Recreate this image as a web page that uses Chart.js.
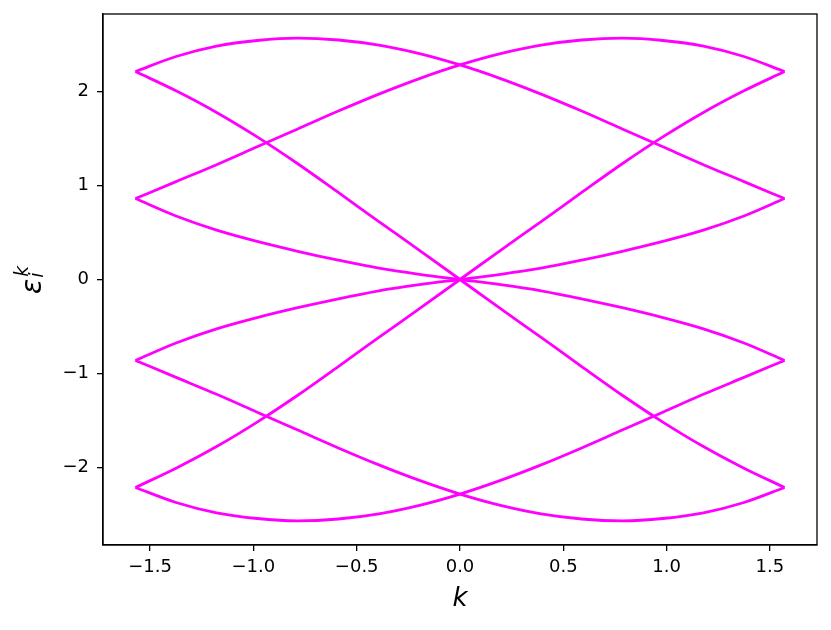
<!DOCTYPE html>
<html>
<head>
<meta charset="utf-8">
<script src="https://cdn.jsdelivr.net/npm/chart.js@4.4.1/dist/chart.umd.min.js"></script>
<style>
  html, body { margin: 0; padding: 0; background: #fff; }
  #wrap { width: 831px; height: 630px; }
</style>
</head>
<body>
<div id="wrap"><canvas id="bands" width="831" height="630"></canvas></div>
<script>
// k samples from -pi/2 to pi/2
const kValues = [-1.5708, -1.3744, -1.1781, -0.9817, -0.7854, -0.5890, -0.3927, -0.1963, 0,
                 0.1963, 0.3927, 0.5890, 0.7854, 0.9817, 1.1781, 1.3744, 1.5708];

// eight bands
const bandTop        = [2.21, 2.37, 2.48, 2.54, 2.565, 2.545, 2.49, 2.40, 2.28, 2.135, 1.97, 1.79, 1.60, 1.41, 1.22, 1.04, 0.86];
const bandTopMirror  = [0.86, 1.04, 1.22, 1.41, 1.60, 1.79, 1.97, 2.135, 2.28, 2.40, 2.49, 2.545, 2.565, 2.54, 2.48, 2.37, 2.21];
const bandSteep      = [2.21, 2.005, 1.775, 1.515, 1.23, 0.925, 0.615, 0.31, 0, -0.31, -0.615, -0.925, -1.23, -1.515, -1.775, -2.005, -2.21];
const bandSteepMirror= [-2.21, -2.005, -1.775, -1.515, -1.23, -0.925, -0.615, -0.31, 0, 0.31, 0.615, 0.925, 1.23, 1.515, 1.775, 2.005, 2.21];
const bandFlat       = [0.86, 0.675, 0.525, 0.405, 0.30, 0.205, 0.12, 0.055, 0, -0.055, -0.12, -0.205, -0.30, -0.405, -0.525, -0.675, -0.86];
const bandFlatMirror = [-0.86, -0.675, -0.525, -0.405, -0.30, -0.205, -0.12, -0.055, 0, 0.055, 0.12, 0.205, 0.30, 0.405, 0.525, 0.675, 0.86];
const bandLow        = [-2.21, -2.37, -2.48, -2.54, -2.565, -2.545, -2.49, -2.40, -2.28, -2.135, -1.97, -1.79, -1.60, -1.41, -1.22, -1.04, -0.86];
const bandLowMirror  = [-0.86, -1.04, -1.22, -1.41, -1.60, -1.79, -1.97, -2.135, -2.28, -2.40, -2.49, -2.545, -2.565, -2.54, -2.48, -2.37, -2.21];

const xTicks = [-1.5, -1.0, -0.5, 0.0, 0.5, 1.0, 1.5];
const yTicks = [-2, -1, 0, 1, 2];

const bands = [bandTop, bandTopMirror, bandSteep, bandSteepMirror,
               bandFlat, bandFlatMirror, bandLow, bandLowMirror];

const minus = v => (v < 0 ? '\u2212' : '') + Math.abs(v);

Chart.defaults.font.family = '"DejaVu Sans", sans-serif';
Chart.defaults.font.size = 18;
Chart.defaults.color = '#000';

// box around the axes plus the axis labels (the y label needs sub/superscript)
const frameAndLabels = {
  id: 'frameAndLabels',
  afterDraw(chart) {
    const { ctx, chartArea: a } = chart;
    ctx.save();
    ctx.strokeStyle = '#000';
    ctx.lineWidth = 1.3;
    ctx.strokeRect(a.left, a.top, a.right - a.left, a.bottom - a.top);

    ctx.fillStyle = '#000';
    ctx.textBaseline = 'alphabetic';
    ctx.textAlign = 'center';
    ctx.font = 'italic 26px "DejaVu Sans"';
    ctx.fillText('k', (a.left + a.right) / 2, 606);

    ctx.translate(41, 294);
    ctx.rotate(-Math.PI / 2);
    ctx.textAlign = 'left';
    ctx.font = 'italic 28px "DejaVu Sans"';
    ctx.fillText('\u03b5', 0, 0);
    const w = ctx.measureText('\u03b5').width;
    ctx.font = 'italic 19px "DejaVu Sans"';
    ctx.fillText('k', w + 2, -13);
    ctx.fillText('i', w + 1, 2);
    ctx.restore();
  }
};

new Chart(document.getElementById('bands'), {
  type: 'line',
  data: {
    datasets: bands.map(band => ({
      data: kValues.map((k, i) => ({ x: k, y: band[i] })),
      borderColor: '#ff00ff',
      borderWidth: 2.8,
      pointRadius: 0,
      fill: false,
      cubicInterpolationMode: 'monotone'
    }))
  },
  options: {
    responsive: false,
    animation: false,
    devicePixelRatio: 1,
    layout: { padding: { top: 14, right: 14, left: 0, bottom: 0 } },
    plugins: { legend: { display: false }, tooltip: { enabled: false } },
    scales: {
      x: {
        type: 'linear',
        min: -1.7279,
        max: 1.7279,
        afterBuildTicks: s => { s.ticks = xTicks.map(v => ({ value: v })); },
        afterFit: s => { s.height = 85; },
        ticks: {
          padding: 6,
          maxRotation: 0,
          callback: v => (v < 0 ? '\u2212' : '') + Math.abs(v).toFixed(1)
        },
        grid: { drawOnChartArea: false, drawTicks: true, tickLength: 6, color: '#000', lineWidth: 1.3 },
        border: { display: true, color: '#000', width: 1.3 }
      },
      y: {
        type: 'linear',
        min: -2.8215,
        max: 2.8215,
        afterBuildTicks: s => { s.ticks = yTicks.map(v => ({ value: v })); },
        afterFit: s => { s.width = 103; s.paddingTop = 0; s.paddingBottom = 0; },
        ticks: { padding: 8, callback: v => minus(v) },
        grid: { drawOnChartArea: false, drawTicks: true, tickLength: 6, color: '#000', lineWidth: 1.3 },
        border: { display: true, color: '#000', width: 1.3 }
      }
    }
  },
  plugins: [frameAndLabels]
});
</script>
</body>
</html>
